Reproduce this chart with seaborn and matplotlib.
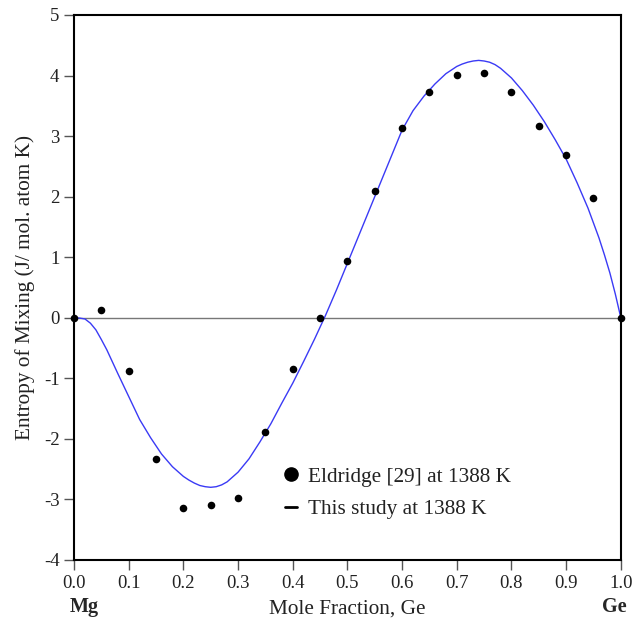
import matplotlib
matplotlib.use("Agg")
import matplotlib.pyplot as plt
import seaborn as sns
import pandas as pd
from matplotlib.lines import Line2D

# Experimental data (Eldridge [29] at 1388 K)
x_exp = [0.0, 0.05, 0.10, 0.15, 0.20, 0.25, 0.30, 0.35, 0.40, 0.45, 0.50,
         0.55, 0.60, 0.65, 0.70, 0.75, 0.80, 0.85, 0.90, 0.95, 1.0]
y_exp = [0.0, 0.13, -0.88, -2.34, -3.14, -3.10, -2.97, -1.89, -0.84, 0.0, 0.93,
         2.09, 3.13, 3.72, 4.01, 4.05, 3.72, 3.17, 2.68, 1.97, 0.0]

# This study curve at 1388 K
x_calc = [0.0, 0.01, 0.02, 0.03, 0.04, 0.05, 0.06, 0.08, 0.10, 0.12, 0.14, 0.16,
          0.18, 0.20, 0.21, 0.22, 0.23, 0.24, 0.25, 0.26, 0.27, 0.28, 0.30,
          0.32, 0.34, 0.36, 0.38, 0.40, 0.42, 0.44, 0.46, 0.48, 0.50, 0.52,
          0.54, 0.56, 0.58, 0.60, 0.62, 0.64, 0.66, 0.68, 0.70, 0.71, 0.72,
          0.73, 0.74, 0.75, 0.76, 0.77, 0.78, 0.80, 0.82, 0.84, 0.86, 0.88,
          0.90, 0.92, 0.94, 0.96, 0.97, 0.98, 0.99, 1.0]
y_calc = [0.0, -0.005, -0.02, -0.09, -0.20, -0.36, -0.53, -0.92, -1.30, -1.68,
          -1.98, -2.25, -2.46, -2.62, -2.68, -2.73, -2.77, -2.79, -2.80, -2.79,
          -2.76, -2.71, -2.55, -2.33, -2.05, -1.75, -1.41, -1.08, -0.72, -0.35,
          0.04, 0.46, 0.90, 1.34, 1.78, 2.22, 2.66, 3.10, 3.42, 3.66, 3.86,
          4.03, 4.15, 4.19, 4.22, 4.24, 4.25, 4.24, 4.22, 4.18, 4.12, 3.96,
          3.75, 3.51, 3.24, 2.94, 2.62, 2.23, 1.81, 1.32, 1.04, 0.74, 0.39, 0.0]

x_ticks = [0.0, 0.1, 0.2, 0.3, 0.4, 0.5, 0.6, 0.7, 0.8, 0.9, 1.0]
x_ticklabels = ["0.0", "0.1", "0.2", "0.3", "0.4", "0.5", "0.6", "0.7", "0.8", "0.9", "1.0"]
y_ticks = [-4, -3, -2, -1, 0, 1, 2, 3, 4, 5]
y_ticklabels = ["-4", "-3", "-2", "-1", "0", "1", "2", "3", "4", "5"]

df_exp = pd.DataFrame({"x": x_exp, "y": y_exp})
df_calc = pd.DataFrame({"x": x_calc, "y": y_calc})

sns.set_style("ticks")
plt.rcParams["font.family"] = ["Liberation Serif", "DejaVu Serif"]
plt.rcParams["axes.unicode_minus"] = False

fig = plt.figure(figsize=(6.42, 6.24), dpi=100)
ax = fig.add_axes([0.1153, 0.1026, 0.8517, 0.8734])

ax.axhline(0, color="#777777", lw=1.0, zorder=1)
sns.lineplot(data=df_calc, x="x", y="y", ax=ax, color="#3a3af5", lw=1.0,
             estimator=None, sort=False, zorder=2)
sns.scatterplot(data=df_exp, x="x", y="y", ax=ax, color="black", s=30,
                edgecolor="black", linewidth=0, zorder=3, clip_on=False)

ax.set_xlim(0, 1)
ax.set_ylim(-4, 5)
ax.set_xticks(x_ticks)
ax.set_xticklabels(x_ticklabels)
ax.set_yticks(y_ticks)
ax.set_yticklabels(y_ticklabels)
ax.tick_params(direction="out", length=7.5, width=1.0, color="#555555",
               labelsize=13.5, pad=3, labelcolor="#222222")
for sp in ax.spines.values():
    sp.set_visible(True)
    sp.set_linewidth(1.5)
    sp.set_color("black")

ax.set_xlabel("Mole Fraction, Ge", fontsize=15.3, labelpad=6, color="#222222")
ax.set_ylabel("Entropy of Mixing (J/ mol. atom K)", fontsize=15.3, labelpad=6,
              color="#222222")

fig.text(0.131, 0.027, "Mg", fontsize=14.5, fontweight="bold", ha="center", va="center")
fig.text(0.957, 0.027, "Ge", fontsize=14.5, fontweight="bold", ha="center", va="center")

handles = [
    Line2D([], [], marker="o", color="black", linestyle="none", markersize=9.5),
    Line2D([], [], color="black", lw=2, marker=None),
]
leg = ax.legend(handles, ["Eldridge [29] at 1388 K", "This study at 1388 K"],
                loc="lower left", bbox_to_anchor=(0.35, 0.04), frameon=False,
                fontsize=15.3, handlelength=0.6, handletextpad=0.5, labelspacing=0.58)
for t in leg.get_texts():
    t.set_color("#222222")

fig.savefig("out.png", dpi=100)
